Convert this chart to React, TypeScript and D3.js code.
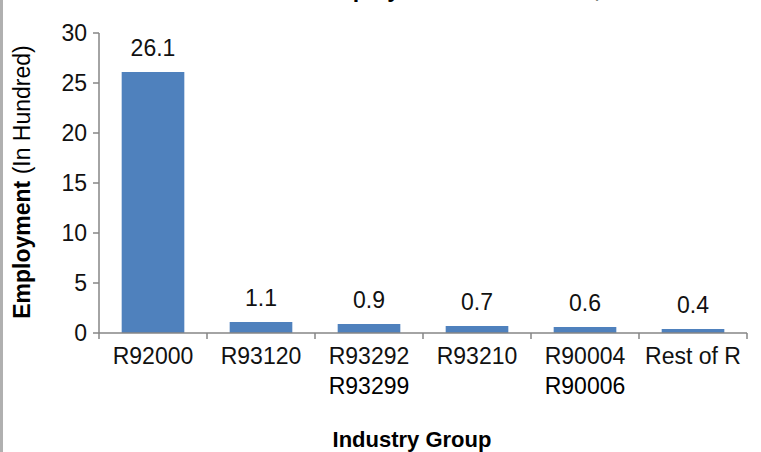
import React from "react";
import * as d3 from "d3";

const W = 761;
const H = 452;

const categoryLine1 = ["R92000", "R93120", "R93292", "R93210", "R90004", "Rest of R"];
const categoryLine2 = ["", "", "R93299", "", "R90006", ""];
const values = [26.1, 1.1, 0.9, 0.7, 0.6, 0.4];
const yTicks = [0, 5, 10, 15, 20, 25, 30];

const titleText = "Employment in Section R, 2012";
const yTitleBold = "Employment";
const yTitleNormal = " (In Hundred)";
const xTitle = "Industry Group";

const FONT = "'Liberation Sans', Arial, sans-serif";
const AXIS = "#868686";
const BAR = "#4F81BD";

export default function App() {
  const left = 99;
  const right = 747;
  const top = 33;
  const bottom = 333;

  const x = d3.scaleBand<number>().domain(d3.range(values.length)).range([left, right]).paddingInner(0.42).paddingOuter(0.21);
  const step = (right - left) / values.length;
  const y = d3.scaleLinear().domain([0, 30]).range([bottom, top]);

  return (
    <svg width={W} height={H} style={{ position: "absolute", left: 0, top: 0, background: "#fff" }} fontFamily={FONT}>
      <rect x={0} y={0} width={W} height={H} fill="#fff" />
      <line x1={1.5} x2={1.5} y1={0} y2={H} stroke="#b0b0b0" strokeWidth={3} />
      <text x={317} y={-3} fontSize={23} fontWeight="bold" fill="#000">{titleText}</text>

      {/* y axis */}
      <line x1={left} x2={left} y1={top} y2={bottom} stroke={AXIS} strokeWidth={1.5} />
      {yTicks.map((t) => (
        <g key={t}>
          <line x1={left - 6} x2={left} y1={y(t)} y2={y(t)} stroke={AXIS} strokeWidth={1.5} />
          <text x={87} y={y(t)} dy="0.36em" textAnchor="end" fontSize={23} fill="#111">{t}</text>
        </g>
      ))}

      {/* bars */}
      {values.map((v, i) => (
        <g key={i}>
          <rect x={x(i)} y={y(v)} width={x.bandwidth()} height={bottom - y(v)} fill={BAR} />
          <text x={(x(i) as number) + x.bandwidth() / 2} y={y(v) - 16} textAnchor="middle" fontSize={23} fill="#111">{v.toFixed(1)}</text>
        </g>
      ))}

      {/* x axis */}
      <line x1={left} x2={right} y1={bottom} y2={bottom} stroke={AXIS} strokeWidth={1.5} />
      {d3.range(values.length + 1).map((i) => (
        <line key={i} x1={left + i * step} x2={left + i * step} y1={bottom} y2={bottom + 6} stroke={AXIS} strokeWidth={1.5} />
      ))}
      {categoryLine1.map((c, i) => (
        <g key={c}>
          <text x={left + (i + 0.5) * step} y={364} textAnchor="middle" fontSize={23} fill="#111">{c}</text>
          {categoryLine2[i] ? (
            <text x={left + (i + 0.5) * step} y={394} textAnchor="middle" fontSize={23} fill="#000">{categoryLine2[i]}</text>
          ) : null}
        </g>
      ))}

      <text x={412} y={447} textAnchor="middle" fontSize={22} fontWeight="bold" fill="#000">{xTitle}</text>
      <text transform={`translate(30, 182) rotate(-90)`} textAnchor="middle" fontSize={23} fill="#000">
        <tspan fontWeight="bold">{yTitleBold}</tspan>
        <tspan>{yTitleNormal}</tspan>
      </text>
    </svg>
  );
}
